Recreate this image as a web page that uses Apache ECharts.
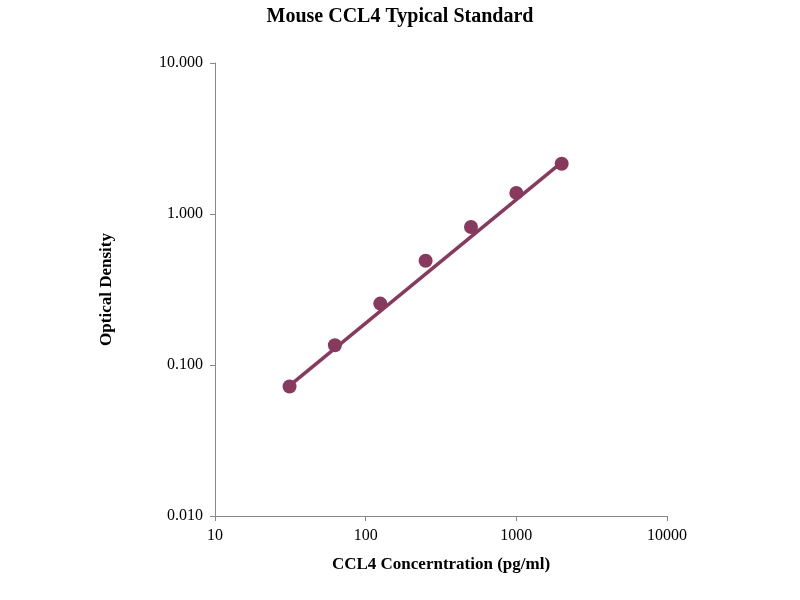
<!DOCTYPE html>
<html>
<head>
<meta charset="utf-8">
<script src="https://cdn.jsdelivr.net/npm/echarts@6/dist/echarts.min.js"></script>
<style>html,body{margin:0;padding:0;background:#fff}#chart{width:800px;height:600px}</style>
</head>
<body>
<div id="chart"></div>
<script>
// data
const concentrations = [31.25, 62.5, 125, 250, 500, 1000, 2000];
const opticalDensity = [0.072, 0.135, 0.255, 0.49, 0.82, 1.38, 2.15];
const fitX = [31.25, 2000];
const fitY = [0.073, 2.2];

const chart = echarts.init(document.getElementById("chart"));
const color = "#873A5E";
const font = "Liberation Serif";

chart.setOption({
  animation: false,
  title: {
    text: "Mouse CCL4 Typical Standard",
    left: "center", top: 2,
    textStyle: { fontFamily: font, fontSize: 20, fontWeight: "bold", color: "#000" }
  },
  grid: { left: 215, right: 133, top: 63, bottom: 84 },
  xAxis: {
    type: "log", min: 10, max: 10000, logBase: 10,
    name: "CCL4 Concerntration (pg/ml)", nameLocation: "middle", nameGap: 40,
    nameTextStyle: { fontFamily: font, fontSize: 17, fontWeight: "bold", color: "#000" },
    axisLine: { lineStyle: { color: "#888" } },
    axisTick: { lineStyle: { color: "#888" } },
    axisLabel: { fontFamily: font, fontSize: 16, color: "#000", margin: 12,
      formatter: v => String(Math.round(v)) },
    splitLine: { show: false }
  },
  yAxis: {
    type: "log", min: 0.01, max: 10, logBase: 10,
    name: "Optical Density", nameLocation: "middle", nameGap: 100,
    nameTextStyle: { fontFamily: font, fontSize: 17, fontWeight: "bold", color: "#000" },
    axisLine: { show: true, lineStyle: { color: "#888" } },
    axisTick: { show: true, lineStyle: { color: "#888" } },
    axisLabel: { fontFamily: font, fontSize: 16, color: "#000", margin: 12,
      formatter: v => v.toFixed(3) },
    splitLine: { show: false }
  },
  series: [
    {
      type: "line", data: fitX.map((x, i) => [x, fitY[i]]),
      showSymbol: false, lineStyle: { color, width: 3.5 }
    },
    {
      type: "scatter", data: concentrations.map((x, i) => [x, opticalDensity[i]]),
      symbolSize: 14, itemStyle: { color, opacity: 1 }
    }
  ]
});
</script>
</body>
</html>
